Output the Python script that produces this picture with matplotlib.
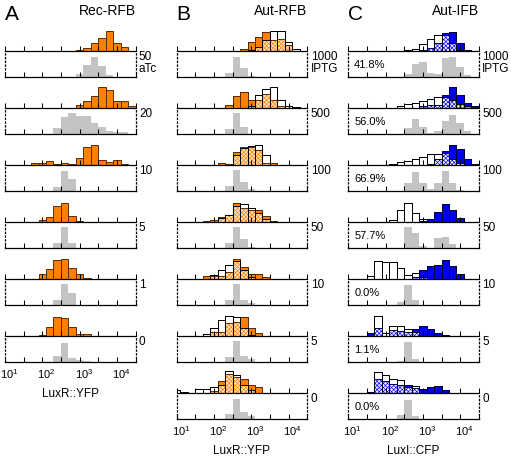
import numpy as np
import matplotlib
matplotlib.use("Agg")
import matplotlib.pyplot as plt
from matplotlib.ticker import FixedLocator, NullLocator

plt.rcParams["font.family"] = ["Liberation Sans", "DejaVu Sans"]
plt.rcParams["mathtext.fontset"] = "custom"
plt.rcParams["mathtext.rm"] = "Liberation Sans"
plt.rcParams["mathtext.it"] = "Liberation Sans:italic"
plt.rcParams["hatch.linewidth"] = 0.45

# histogram bins, log10 units, 0.2 wide
bin_centers = np.round(np.arange(1.0, 4.41, 0.2), 1)

# each histogram: (centre of first bin, heights)
A_labels = ["50\naTc", "20", "10", "5", "1", "0"]
A_orange = [
    (3.0, [1, 3.3, 8.3, 13.3, 20.3, 8.3, 4]),
    (3.0, [3, 6.7, 12.3, 20.7, 18.3, 7.3, 7.3, 2.3]),
    (1.8, [2.3, 1.7, 3.7, 1.3, 1.7, 1, 6.7, 18.3, 20, 5, 3.3, 5, 0.7]),
    (2.0, [1.7, 5, 15.7, 19.3, 5.7, 1]),
    (2.0, [4.7, 10.3, 19.3, 20, 11, 5.3, 1.3]),
    (2.0, [1, 8.7, 19.3, 18.3, 9.3, 2, 2]),
]
A_gray = [
    (3.0, [2.7, 12.3, 20, 11, 1.7]),
    (2.4, [5.7, 16.7, 20.7, 18.3, 18.3, 11, 7.3, 2.7, 1.7, 1.7]),
    (2.4, [4, 20, 11.7]),
    (2.4, [5, 20.7, 5]),
    (2.4, [5.3, 20.7, 12]),
    (2.4, [6, 19.3, 4, 2, 1]),
]

B_labels = ["1000\nIPTG", "500", "100", "50", "10", "5", "0"]
B_orange = [
    (2.8, [2.3, 8.7, 14.3, 18.7, 11, 11.7, 6, 0.5, 0]),
    (2.4, [3.3, 12.3, 15.7, 8.3, 8.3, 14.3, 8.3, 2.3, 0, 0, 0]),
    (2.2, [1.7, 1, 13.3, 18.3, 18.3, 15, 2, 1.7]),
    (1.8, [0.7, 1.7, 5, 6.7, 19.3, 14.3, 12, 11.7, 5.7, 1, 0.5]),
    (1.8, [2.7, 2.7, 3.3, 7, 20.3, 12, 5.3, 5.3, 2, 0, 0.5]),
    (1.8, [0.5, 3.7, 3.7, 12.7, 14.3, 19.3, 7.7, 3.3, 0.3, 0, 0.5]),
    (1.0, [0, 0, 0, 0, 0, 2, 12, 19.3, 16, 14.3, 8.3, 6, 0.5, 0, 0.3]),
]
B_white = [
    (2.8, [0, 1, 4, 11, 20.3, 20.3, 8.7, 2, 0.5]),
    (2.4, [0, 0, 0, 2.3, 13.3, 19.3, 21, 7.7, 2.3, 1, 0.5]),
    (2.2, [0, 0.5, 10, 17, 19.3, 19.7, 10, 0]),
    (1.8, [0, 0, 4, 6.7, 16, 18.3, 14.3, 9, 3, 0, 0]),
    (1.8, [0, 4, 9.3, 14.3, 18.3, 9.3, 2, 0, 0, 0, 0]),
    (1.8, [2, 7.7, 16, 20, 19.3, 7.7, 1, 0, 0, 0, 0]),
    (1.0, [3, 1, 0.5, 4.3, 4.3, 6, 8.3, 21.7, 17.7, 8.3, 3, 0, 0, 0, 0]),
]
B_gray = [
    (2.4, [4, 20, 9, 1]),
    (2.4, [5, 20.7, 7.3]),
    (2.4, [5, 20.7, 9.3, 1.7]),
    (2.4, [5, 20.7, 9, 1.3]),
    (2.4, [5.3, 21, 5.3, 2]),
    (2.4, [5.3, 21, 6, 2.7]),
    (2.4, [4.7, 19.7, 7.3, 3]),
]

C_labels = B_labels
C_percent = ["41.8%", "56.0%", "66.9%", "57.7%", "0.0%", "1.1%", "0.0%"]
C_blue = [
    (2.6, [0, 0, 1, 3.3, 8.3, 17.7, 19.3, 8.3, 0.7]),
    (2.2, [0, 0, 0, 0.5, 1.7, 3.3, 3.3, 13.3, 21, 13.3, 5, 1.7]),
    (2.2, [0, 0, 0, 0, 0.5, 1, 6, 14, 20, 15.7, 5.7, 1]),
    (2.2, [0, 0, 0, 0, 1, 3.3, 10, 17.7, 12.3, 4.3]),
    (1.6, [0, 0, 0, 0, 0, 0, 2, 9.3, 12.7, 14.3, 19.3, 13.3, 5]),
    (1.6, [2.7, 7.7, 0, 6, 5, 3.7, 6.7, 10, 6.7, 2.7, 1]),
    (1.6, [1.5, 13.7, 12, 8.7, 8.3, 8.3, 4.7, 4.3, 6, 7, 2.7]),
]
C_white = [
    (2.6, [0.7, 2.3, 6.7, 11.7, 15.7, 15.7, 7.7, 1.3, 0]),
    (2.2, [0.5, 1.7, 4, 5, 7.3, 9, 10.7, 10.7, 8.3, 4, 1.7, 0]),
    (2.2, [1.3, 2.7, 4, 5.7, 7.7, 10.7, 10.7, 12, 6, 2, 0, 0]),
    (2.2, [1.7, 11.7, 19.3, 9.3, 3.3, 0, 0, 0, 0, 0]),
    (1.6, [2.7, 17.7, 17, 17, 11, 3.7, 6, 2, 0, 0, 0, 0, 0]),
    (1.6, [0, 20, 2.7, 10.3, 10, 6.7, 4, 0, 0, 0, 0]),
    (1.6, [0, 21, 18.3, 14.3, 12.7, 6, 7, 0, 0, 0, 0]),
]
C_gray = [
    (2.6, [2.7, 13.3, 15, 4, 2.7, 19.3, 20, 10, 1.7]),
    (2.6, [6, 15.3, 6.7, 1, 2.7, 12.7, 18.7, 11, 2.7]),
    (2.6, [8.3, 19, 8.3, 1.7, 7.7, 20, 7.7, 1]),
    (2.6, [21.3, 15, 2.3, 0.3, 10, 11.3, 4, 0.5]),
    (2.4, [3.3, 20.3, 5.3]),
    (2.4, [1, 20, 2.7]),
    (2.4, [4, 19, 3]),
]

tick_pos = 10 ** np.arange(1.0, 4.51, 0.5)
label_pos = [10, 100, 1000, 10000]
label_txt = ["$10^{1}$", "$10^{2}$", "$10^{3}$", "$10^{4}$"]
xlabels = {"A": "LuxR::YFP", "B": "LuxR::YFP", "C": "LuxI::CFP"}

ORANGE, ORANGE_EDGE, PEACH = "#ff8000", "#5a2d00", "#fde2c4"
BLUE, BLUE_EDGE, LAVENDER = "#0000f0", "#000040", "#ececff"
GRAY = "#c3c3c3"

W, H = 511, 458
fig = plt.figure(figsize=(W / 100, H / 100), dpi=100)


def expand(hist):
    start, vals = hist
    out = np.zeros(len(bin_centers))
    i0 = int(round((start - 1.0) / 0.2))
    out[i0:i0 + len(vals)] = vals
    return out


lo = 10 ** (bin_centers - 0.1)
hi = 10 ** (bin_centers + 0.1)


def bars(ax, h, **kw):
    m = h > 0
    ax.bar(lo[m], h[m], width=(hi - lo)[m], align="edge", **kw)


def add_ax(left, top, height, width=130.5):
    return fig.add_axes([left / W, 1 - (top + height) / H, width / W, height / H])


def style(ax, ymax):
    ax.set_xscale("log")
    ax.set_xlim(10, 10 ** 4.5)
    ax.set_ylim(0, ymax)
    ax.set_yticks([])
    ax.xaxis.set_major_locator(FixedLocator(tick_pos))
    ax.xaxis.set_minor_locator(NullLocator())
    ax.tick_params(axis="x", direction="in", length=3.5, width=0.75, labelbottom=False)
    ax.spines["top"].set_visible(False)
    ax.spines["bottom"].set_linewidth(0.9)
    ax.patch.set_visible(False)


def column(left, letter, title, labels, colored, white, gray, fc, ec, hfc, percent=None):
    fig.text(left / W, 1 - 14 / H, letter, fontsize=15, ha="left", va="center")
    fig.text((left + 130.5) / W, 1 - 11 / H, title, fontsize=10, ha="right", va="center")
    n = len(labels)
    for k in range(n):
        cb = 51 + 57 * k
        ax = add_ax(left, cb - 27, 27)
        style(ax, 27)
        ax.spines["left"].set_visible(False)
        ax.spines["right"].set_visible(False)
        c = expand(colored[k])
        if white is None:
            bars(ax, c, facecolor=fc, edgecolor=ec, linewidth=0.7)
        else:
            w = expand(white[k])
            both = np.minimum(c, w)
            bars(ax, w, facecolor="white", edgecolor="black", linewidth=0.7)
            bars(ax, c, facecolor=fc, edgecolor=ec, linewidth=0.7)
            bars(ax, both, facecolor=hfc, edgecolor=fc, hatch="xxxxxxxx", linewidth=0)
            bars(ax, c, facecolor="none", edgecolor=ec, linewidth=0.7)
            bars(ax, w, facecolor="none", edgecolor="black", linewidth=0.7)

        axg = add_ax(left, cb + 1.5, 24.5)
        style(axg, 24.5)
        for s in ["left", "right"]:
            axg.spines[s].set_linestyle((0, (1, 2)))
            axg.spines[s].set_linewidth(0.9)
        bars(axg, expand(gray[k]), facecolor=GRAY, edgecolor="none", linewidth=0)
        axg.annotate(labels[k], xy=(1, 1), xycoords="axes fraction", xytext=(2.5, 1),
                     textcoords="offset points", ha="left", va="top", fontsize=8.5,
                     linespacing=0.95)
        if percent is not None:
            axg.text(0.045, 0.5, percent[k], transform=axg.transAxes, ha="left",
                     va="center", fontsize=8)
        if k == n - 1:
            for pos, txt in zip(label_pos, label_txt):
                axg.annotate(txt, xy=(pos, 0), xycoords=("data", "axes fraction"),
                             xytext=(3, -3.5), textcoords="offset points",
                             ha="center", va="top", fontsize=8)
            axg.annotate(xlabels[letter], xy=(0.5, 0), xycoords="axes fraction",
                         xytext=(0, -18.5), textcoords="offset points",
                         ha="center", va="top", fontsize=8.5)


column(5, "A", "Rec-RFB", A_labels, A_orange, None, A_gray, ORANGE, ORANGE_EDGE, PEACH)
column(176.7, "B", "Aut-RFB", B_labels, B_orange, B_white, B_gray, ORANGE, ORANGE_EDGE, PEACH)
column(348.3, "C", "Aut-IFB", C_labels, C_blue, C_white, C_gray, BLUE, BLUE_EDGE, LAVENDER,
       percent=C_percent)

fig.savefig("out.png", dpi=100)
